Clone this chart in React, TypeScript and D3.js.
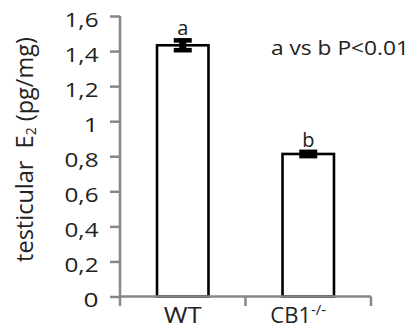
import { useEffect, useRef } from "react";
import * as d3 from "d3";

const categories = ["WT", "CB1"];
const means = [1.433, 0.813];
const errors = [0.028, 0.012];
const letters = ["a", "b"];
const yTicks = [0, 0.2, 0.4, 0.6, 0.8, 1, 1.2, 1.4, 1.6];

const WIDTH = 418;
const HEIGHT = 327;
const MARGIN = { top: 16, right: 47, bottom: 30.5, left: 120 };
const FONT = "'Open Sans', sans-serif";
const TEXT = "#222";

const App = () => {
  const axesRef = useRef<SVGGElement>(null);
  const boundsWidth = WIDTH - MARGIN.left - MARGIN.right;
  const boundsHeight = HEIGHT - MARGIN.top - MARGIN.bottom;

  const yScale = d3.scaleLinear().domain([0, 1.6]).range([boundsHeight, 0]);
  const xScale = d3.scaleBand().domain(categories).range([0, boundsWidth]).padding(0);
  const barWidth = xScale.bandwidth() * 0.41;

  // axes drawn by d3, then restyled like the excel original
  useEffect(() => {
    const g = d3.select(axesRef.current);
    g.selectAll("*").remove();

    const yAxis = g.append("g").call(
      d3
        .axisLeft(yScale)
        .tickValues(yTicks)
        .tickSize(10)
        .tickPadding(11.5)
        .tickFormat((d) => d3.format("~g")(d as number).replace(".", ","))
    );
    yAxis.select(".domain").attr("d", `M0,0V${boundsHeight}`);
    yAxis
      .selectAll<SVGTextElement, number>("text")
      .attr("dy", "0.5em")
      .attr("font-size", 20)
      .attr("textLength", function () {
        return (this.textContent || "").length > 1 ? 34 : 15;
      })
      .attr("lengthAdjust", "spacingAndGlyphs");

    const xAxis = g
      .append("g")
      .attr("transform", `translate(0,${boundsHeight})`)
      .call(d3.axisBottom(xScale).tickValues([]).tickSizeOuter(0));
    xAxis.select(".domain").attr("d", `M0,0H${boundsWidth}`);
    // tick marks sit between the categories, as in excel
    [0, xScale.step(), boundsWidth].forEach((x) => {
      xAxis.append("line").attr("x1", x).attr("x2", x).attr("y1", 0).attr("y2", 9.5);
    });

    g.selectAll(".domain, line").attr("stroke", "#878787").attr("stroke-width", 2.5);
    g.selectAll("text").attr("font-family", FONT).attr("fill", TEXT);
  }, [xScale, yScale, boundsHeight, boundsWidth]);

  const bars = categories.map((c, i) => {
    const cx = (xScale(c) ?? 0) + xScale.bandwidth() / 2;
    const yTop = yScale(means[i]);
    const yHi = yScale(means[i] + errors[i]);
    const yLo = yScale(means[i] - errors[i]);
    return (
      <g key={c}>
        <rect
          x={cx - barWidth / 2}
          y={yTop}
          width={barWidth}
          height={boundsHeight - yTop}
          fill="white"
          stroke="black"
          strokeWidth={2.6}
        />
        <rect x={cx - 3.5} y={yHi} width={7} height={yLo - yHi} fill="black" />
        <rect x={cx - 9} y={yHi - 2.3} width={18} height={4.6} fill="black" />
        <rect x={cx - 9} y={yLo - 2.3} width={18} height={4.6} fill="black" />
        <text
          x={cx}
          y={yHi - 5}
          textAnchor="middle"
          fontFamily={FONT}
          fontSize={20}
          fill={TEXT}
        >
          {letters[i]}
        </text>
      </g>
    );
  });

  const wtX = (xScale("WT") ?? 0) + xScale.bandwidth() / 2;
  const cbX = (xScale("CB1") ?? 0) + xScale.bandwidth() / 2;

  return (
    <svg
      width={WIDTH}
      height={HEIGHT}
      style={{ position: "absolute", left: 0, top: 0, background: "white" }}
    >
      <g transform={`translate(${MARGIN.left},${MARGIN.top})`}>
        {bars}
        <g ref={axesRef} />
        <text
          x={wtX}
          y={boundsHeight + 26}
          textAnchor="middle"
          fontFamily={FONT}
          fontSize={22}
          fill={TEXT}
          textLength={38}
          lengthAdjust="spacingAndGlyphs"
        >
          WT
        </text>
        <text
          x={cbX - 10}
          y={boundsHeight + 26}
          textAnchor="middle"
          fontFamily={FONT}
          fontSize={22}
          fill={TEXT}
        >
          CB1
          <tspan fontSize={15} dy={-8}>
            -/-
          </tspan>
        </text>
      </g>
      <text
        x={271}
        y={55}
        fontFamily={FONT}
        fontSize={20}
        fill={TEXT}
        textLength={138}
        lengthAdjust="spacingAndGlyphs"
      >
        a vs b P&lt;0.01
      </text>
      <text
        transform={`translate(33,149.5) rotate(-90)`}
        textAnchor="middle"
        fontFamily={FONT}
        fontSize={23.5}
        fill={TEXT}
        style={{ whiteSpace: "pre" }}
      >
        {"testicular  E"}
        <tspan fontSize={14} dy={3}>
          2
        </tspan>
        <tspan dy={-3}> (pg/mg)</tspan>
      </text>
    </svg>
  );
};

export default App;
